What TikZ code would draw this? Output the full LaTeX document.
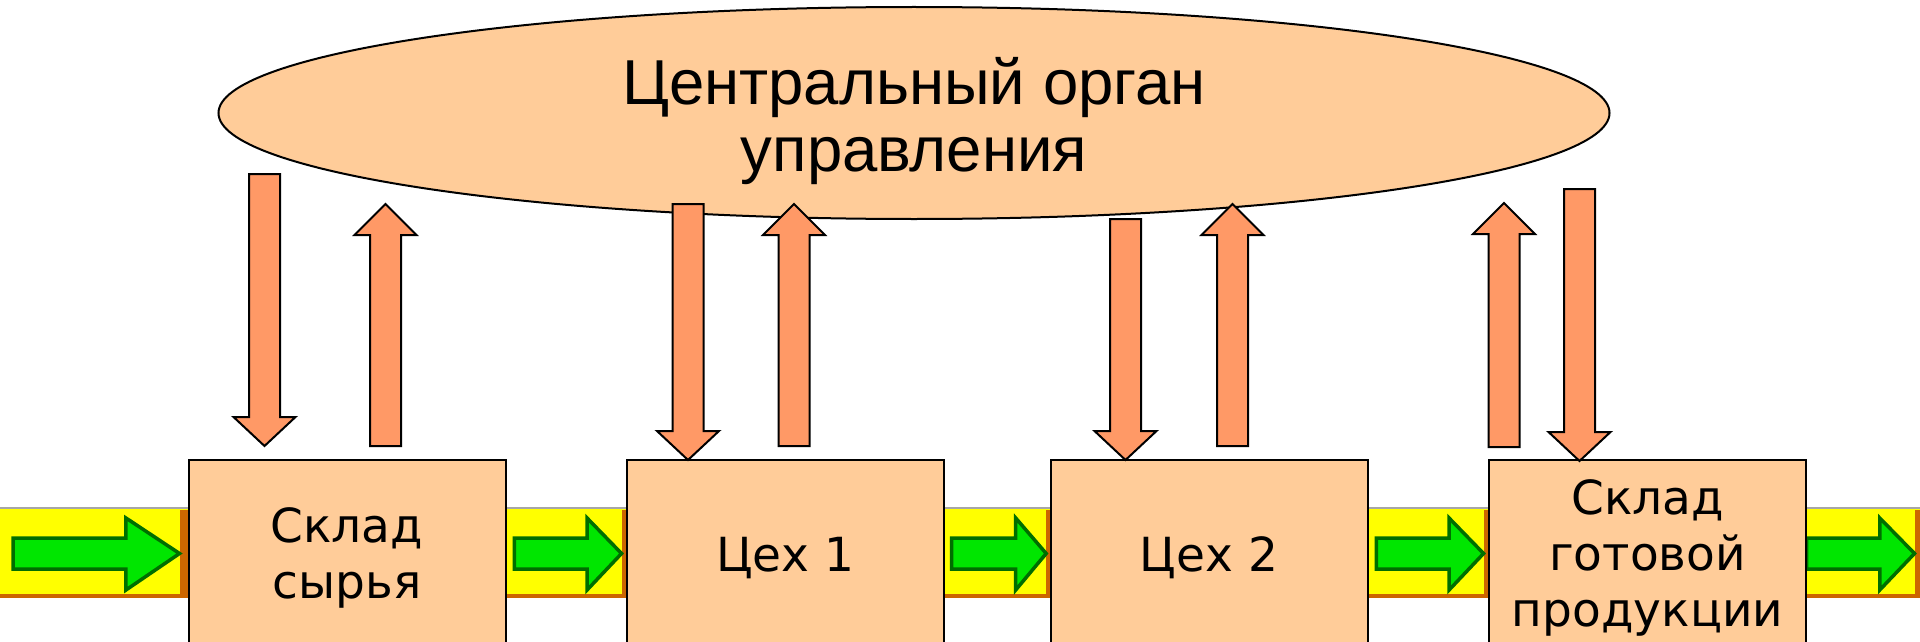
\documentclass[tikz,border=0pt]{standalone}
\usepackage{fontspec}
\setmainfont{DejaVu Sans}
\newfontfamily\headfont{Liberation Sans}
\usetikzlibrary{shapes.geometric}

\definecolor{peach}{RGB}{255,204,153}
\definecolor{salmon}{RGB}{255,153,102}
\definecolor{tileyellow}{RGB}{255,255,0}
\definecolor{tilebrown}{RGB}{204,102,0}
\definecolor{arrowgreen}{RGB}{0,230,0}
\definecolor{arrowdark}{RGB}{0,110,0}

\tikzset{
  unit/.style={draw=black, line width=2pt, fill=peach,
    minimum width=317pt, minimum height=196pt, inner sep=0pt,
    align=center, font=\fontsize{47}{56}\selectfont},
  hub/.style={ellipse, draw=black, line width=2pt, fill=peach,
    minimum width=1391pt, minimum height=212pt, inner sep=0pt},
  hubtext/.style={inner sep=0pt, align=center,
    font=\headfont\fontsize{63.5}{67}\selectfont},
  flowarrow/.style={fill=salmon, draw=black, line width=2pt, line join=miter},
  greenarrow/.style={fill=arrowgreen, draw=arrowdark, line width=3.5pt, line join=miter}
}

% yellow button with a green arrow: #1 left edge, #2 right edge
\newcommand{\flowtile}[2]{%
  \fill[tileyellow] (#1,508) rectangle (#2,598);
  \fill[tilebrown] ({#2-0.045*(#2-#1)},510) rectangle (#2,598);
  \fill[tilebrown] (#1,594) rectangle (#2,598);
  \draw[black!35, line width=1.5pt] (#1,508) -- (#2,508);
  \draw[greenarrow]
    ({#1+0.07*(#2-#1)},538) -- ({#1+0.67*(#2-#1)},538) --
    ({#1+0.67*(#2-#1)},518) -- ({#2-0.045*(#2-#1)},553.5) --
    ({#1+0.67*(#2-#1)},590) -- ({#1+0.67*(#2-#1)},569) --
    ({#1+0.07*(#2-#1)},569) -- cycle;
}

% block arrow pointing down: #1 centre x, #2 tail y, #3 tip y
\newcommand{\downflow}[3]{%
  \draw[flowarrow] ({#1-15.5},#2) -- ({#1+15.5},#2) -- ({#1+15.5},{#3-29}) --
    ({#1+31},{#3-29}) -- (#1,#3) -- ({#1-31},{#3-29}) -- ({#1-15.5},{#3-29}) -- cycle;
}
% block arrow pointing up: #1 centre x, #2 tail y, #3 tip y
\newcommand{\upflow}[3]{%
  \draw[flowarrow] ({#1-15.5},#2) -- ({#1+15.5},#2) -- ({#1+15.5},{#3+31}) --
    ({#1+31},{#3+31}) -- (#1,#3) -- ({#1-31},{#3+31}) -- ({#1-15.5},{#3+31}) -- cycle;
}

\begin{document}
\begin{tikzpicture}[x=1pt, y=-1pt]
  \useasboundingbox (0,0) rectangle (1920,642);
  \fill[white] (0,0) rectangle (1920,642);

  % material flow buttons
  \flowtile{0}{188}
  \flowtile{506}{627}
  \flowtile{944}{1051}
  \flowtile{1368}{1489}
  \flowtile{1798}{1920}

  % production units
  \node[unit] (raw)   at (347,558)    {Склад\\сырья};
  \node[unit] (shop1) at (785.5,558)  {Цех 1};
  \node[unit] (shop2) at (1209,558)   {Цех 2};
  \node[unit] (store) at (1647.5,558) {Склад\\готовой\\продукции};

  % control centre
  \node[hub] (hq) at (914,113) {};
  \node[hubtext, yshift=-8pt] (hqtext) at (hq.center) {Центральный орган\\управления};

  % commands and reports
  \downflow{264.5}{174}{446}
  \upflow{385.5}{446}{204}
  \downflow{688}{204}{460}
  \upflow{794}{446}{204}
  \downflow{1125.5}{219}{460}
  \upflow{1232.5}{446}{204}
  \upflow{1504}{447}{203}
  \downflow{1579.5}{189}{461}
\end{tikzpicture}
\end{document}
